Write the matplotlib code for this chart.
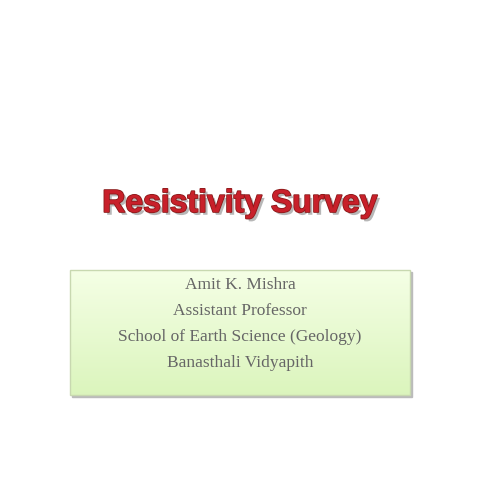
import matplotlib
matplotlib.use("Agg")
import matplotlib.pyplot as plt
import numpy as np
import matplotlib.patheffects as pe

title = "Resistivity Survey"
lines = ["Amit K. Mishra", "Assistant Professor",
         "School of Earth Science (Geology)", "Banasthali Vidyapith"]
line_y = [285, 311, 337, 363]

fig = plt.figure(figsize=(4.8, 4.8), dpi=100)
ax = fig.add_axes([0, 0, 1, 1])
ax.set_xlim(0, 480); ax.set_ylim(480, 0); ax.axis("off")

grad = np.linspace(0, 1, 100).reshape(-1, 1)
c1 = np.array([0.96, 1.0, 0.90]); c2 = np.array([0.86, 0.96, 0.74])
img = c1 + (c2 - c1) * grad[..., None]
img = np.repeat(img, 2, axis=1)
ax.imshow(img, extent=[70, 410, 395, 270], aspect="auto", zorder=1)
ax.add_patch(plt.Rectangle((72, 272), 340, 125, color="#bbbbbb", zorder=0.5))
ax.add_patch(plt.Rectangle((70, 270), 340, 125, fill=False, ec="#c8d8b0", lw=1, zorder=2))

ax.text(240, 204, title, ha="center", va="center", fontsize=23, fontweight="bold",
        family=["Liberation Sans", "DejaVu Sans"], color="#c8202a",
        path_effects=[pe.withSimplePatchShadow(offset=(2, -2), shadow_rgbFace="#888888", alpha=0.6),
                      pe.Stroke(linewidth=1.2, foreground="#8b1a1a"), pe.Normal()], zorder=3)

for s, y in zip(lines, line_y):
    ax.text(240, y, s, ha="center", va="center", fontsize=12.5,
            family=["Liberation Serif", "DejaVu Serif"], color="#666666", zorder=3)

fig.savefig("out.png", dpi=100)
